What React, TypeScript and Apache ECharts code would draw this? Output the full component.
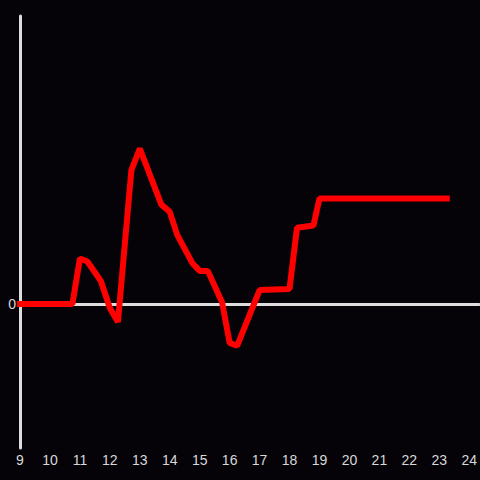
import React, { useEffect, useRef } from "react";
import * as echarts from "echarts";

const hours: number[] = [
  9.0, 10.75, 11.0, 11.25, 11.7, 12.0, 12.27, 12.72, 13.0, 13.72, 14.0, 14.25,
  14.75, 15.0, 15.27, 15.75, 16.0, 16.25, 17.0, 18.0, 18.25, 18.8, 19.0, 23.25,
];
const values: number[] = [
  0, 0, 3.16, 2.95, 1.6, -0.28, -1.25, 9.3, 10.8, 6.9, 6.4, 4.8,
  2.85, 2.3, 2.3, 0.1, -2.7, -2.9, 0.97, 1.05, 5.3, 5.45, 7.33, 7.33,
];
const xMin = 9;
const xMax = 24.333;
const yMin = -10;
const yMax = 20;

export default function App() {
  const ref = useRef<HTMLDivElement>(null);
  useEffect(() => {
    if (!ref.current) return;
    const chart = echarts.init(ref.current, undefined, { renderer: "svg" });
    const labelStyle = {
      color: "#d8d8d8",
      fontSize: 14,
      fontFamily: "'Liberation Sans', Arial, sans-serif",
    };
    chart.setOption({
      animation: false,
      backgroundColor: "#050308",
      grid: { left: 20, right: 0, top: 16, bottom: 32 },
      xAxis: [
        {
          type: "value",
          min: xMin,
          max: xMax,
          interval: 1,
          position: "bottom",
          axisLine: { show: false, onZero: false },
          axisTick: { show: false },
          splitLine: { show: false },
          axisLabel: {
            ...labelStyle,
            margin: 5,
            showMaxLabel: false,
            formatter: (v: number) => (Number.isInteger(v) ? String(v) : ""),
          },
        },
        {
          type: "value",
          min: xMin,
          max: xMax,
          interval: 1,
          position: "top",
          axisLine: { show: true, onZero: true, lineStyle: { color: "#dddddd", width: 3 } },
          axisTick: { show: false },
          splitLine: { show: false },
          axisLabel: { show: false },
        },
      ],
      yAxis: {
        type: "value",
        min: yMin,
        max: yMax,
        interval: 10,
        axisLine: { show: true, onZero: false, lineStyle: { color: "#dddddd", width: 3 } },
        axisTick: { show: false },
        splitLine: { show: false },
        axisLabel: {
          ...labelStyle,
          margin: 4,
          formatter: (v: number) => (v === 0 ? "0" : ""),
        },
      },
      series: [
        {
          type: "line",
          xAxisIndex: 0,
          data: hours.map((h, i) => [h, values[i]]),
          symbol: "none",
          showSymbol: false,
          clip: false,
          z: 5,
          lineStyle: { color: "#ff0000", width: 6, cap: "square" },
        },
      ],
    });
    return () => chart.dispose();
  }, []);
  return (
    <div
      ref={ref}
      style={{ position: "fixed", left: 0, top: 0, width: 480, height: 480, background: "#050308" }}
    />
  );
}
